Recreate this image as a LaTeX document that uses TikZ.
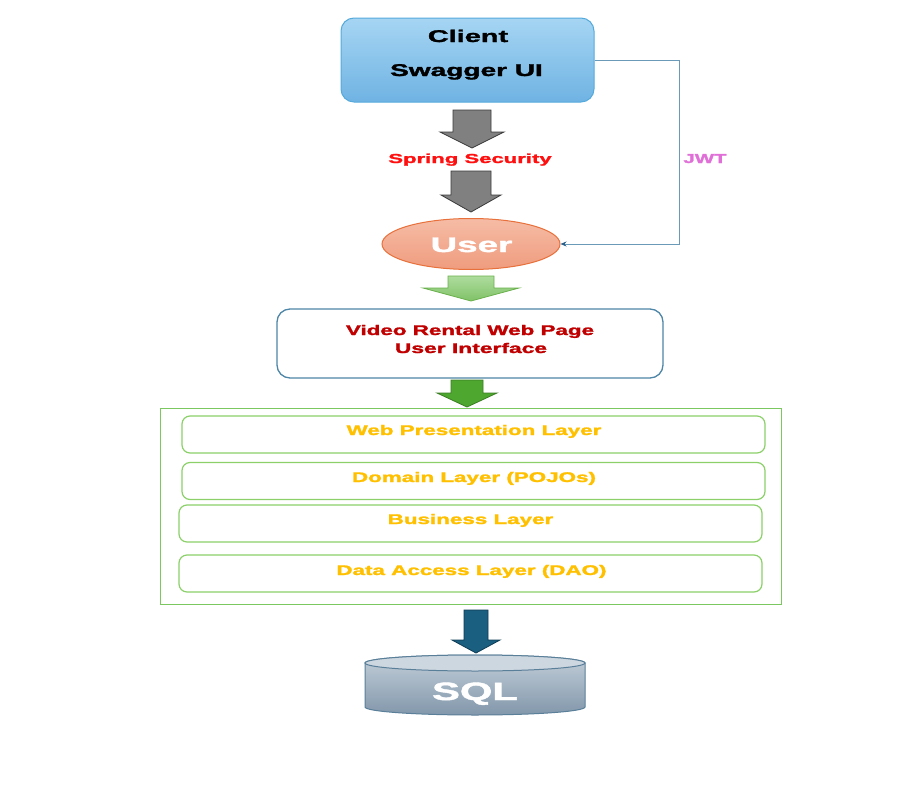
\documentclass[tikz,border=0pt]{standalone}
\usepackage{fontspec}
\setmainfont{Liberation Sans}[BoldFeatures={FakeBold=1.5}]
\usetikzlibrary{shapes.geometric,arrows.meta}
\definecolor{clientT}{HTML}{A6D5F3}
\definecolor{clientBot}{HTML}{6FB3E3}
\definecolor{clientB}{HTML}{55AADC}
\definecolor{userT}{HTML}{F6BCA6}
\definecolor{userBot}{HTML}{EF9C7E}
\definecolor{userB}{HTML}{E8703A}
\definecolor{jwtline}{HTML}{6A9AB8}
\definecolor{jwtarrow}{HTML}{2A5F8A}
\definecolor{jwttext}{HTML}{E070D8}
\definecolor{springred}{HTML}{FF1010}
\definecolor{vrred}{HTML}{C00000}
\definecolor{layertext}{HTML}{FFC000}
\definecolor{layerB}{HTML}{8CD06A}
\definecolor{outerB}{HTML}{7CC860}
\definecolor{vrB}{HTML}{4E86A8}
\definecolor{grayF}{HTML}{808080}
\definecolor{grayB}{HTML}{3A3A3A}
\definecolor{lgT}{HTML}{AEDC9E}
\definecolor{lgBot}{HTML}{80C267}
\definecolor{lgB}{HTML}{6AB04C}
\definecolor{dgF}{HTML}{4EA72E}
\definecolor{dgB}{HTML}{3B7D23}
\definecolor{blF}{HTML}{1A5E80}
\definecolor{blB}{HTML}{0F3D55}
\definecolor{cylT}{HTML}{C3CFD9}
\definecolor{cylBot}{HTML}{8297AB}
\definecolor{cylTop}{HTML}{CDD7DF}
\definecolor{cylB}{HTML}{5A7F99}
\newcommand{\wtxt}[2][1.63]{\scalebox{#1}[1]{#2}}
\newcommand{\blockarrow}[7]{%
  \draw[#7] (#1-#5,#2) -- (#1+#5,#2) -- (#1+#5,#3) -- (#1+#6,#3) -- (#1,#4) -- (#1-#6,#3) -- (#1-#5,#3) -- cycle;}
\tikzset{
  lbl/.style={anchor=base, inner sep=0pt, font=\bfseries\fontsize{14}{16}\selectfont},
  layerbox/.style={draw=layerB, line width=1.2pt, rounded corners=8pt, minimum width=583pt, minimum height=37pt, inner sep=0pt, fill=white},
  grayarrow/.style={fill=grayF, draw=grayB, line width=0.8pt},
}
\begin{document}
\begin{tikzpicture}[x=1pt,y=-1pt]
\useasboundingbox (0,0) rectangle (911,787);
\fill[white] (0,0) rectangle (911,787);

% Client
\node[draw=clientB, line width=1pt, rounded corners=13pt, top color=clientT, bottom color=clientBot, minimum width=253pt, minimum height=84pt, inner sep=0pt] (client) at (467.5,60) {};
\node[lbl, font=\bfseries\fontsize{17}{20}\selectfont] (clientl1) at (468,42) {\wtxt[1.7]{Client}};
\node[lbl, font=\bfseries\fontsize{17}{20}\selectfont] (clientl2) at (466.5,76) {\wtxt[1.65]{Swagger UI}};

% gray arrows and Spring Security
\blockarrow{472}{110}{132}{148}{19}{32}{grayarrow}
\node[lbl, text=springred, font=\bfseries\fontsize{13}{15}\selectfont] (spring) at (470,163) {\wtxt[1.7]{Spring Security}};
\blockarrow{471}{171}{195}{212}{20}{30}{grayarrow}

% User
\node[ellipse, draw=userB, line width=1pt, top color=userT, bottom color=userBot, minimum width=178pt, minimum height=51pt, inner sep=0pt] (user) at (471,244) {};
\node[lbl, text=white, font=\bfseries\fontsize{21}{24}\selectfont] (userl) at (471.5,252) {\wtxt[1.75]{User}};

% JWT connector
\coordinate (jwtc) at (679,60);
\draw[jwtline, line width=1pt, -{Stealth[length=6pt,width=5pt,color=jwtarrow]}] (client.east) -- (jwtc) |- (user.east);
\node[lbl, text=jwttext, font=\bfseries\fontsize{13}{15}\selectfont] (jwt) at (705,163) {\wtxt[1.57]{JWT}};

% light green arrow
\blockarrow{471}{276}{288}{301}{23}{48}{top color=lgT, bottom color=lgBot, draw=lgB, line width=0.8pt}

% Video rental box
\node[draw=vrB, line width=1.3pt, rounded corners=13pt, fill=white, minimum width=386pt, minimum height=69pt, inner sep=0pt] (vr) at (470,343.5) {};
\node[lbl, text=vrred] (vrl1) at (470,335) {\wtxt[1.6]{Video Rental Web Page}};
\node[lbl, text=vrred] (vrl2) at (471,353) {\wtxt[1.63]{User Interface}};

% dark green arrow
\blockarrow{467}{380}{393}{407}{16}{30}{fill=dgF, draw=dgB, line width=0.8pt}

% outer container
\node[draw=outerB, line width=1pt, minimum width=621pt, minimum height=196pt, inner sep=0pt] (outer) at (470.5,506) {};

% layers
\node[layerbox] (wpl) at (473.5,434.5) {};
\node[lbl, text=layertext] (wpll) at (474,435) {\wtxt[1.6]{Web Presentation Layer}};
\node[layerbox] (dl) at (473.5,481) {};
\node[lbl, text=layertext] (dll) at (474,482) {\wtxt[1.6]{Domain Layer (POJOs)}};
\node[layerbox] (bl) at (470.5,523.5) {};
\node[lbl, text=layertext] (bll) at (470.5,524) {\wtxt[1.6]{Business Layer}};
\node[layerbox] (dal) at (470.5,573.5) {};
\node[lbl, text=layertext] (dall) at (471.5,575) {\wtxt[1.6]{Data Access Layer (DAO)}};

% blue arrow
\blockarrow{476}{610}{640}{653}{12}{24}{fill=blF, draw=blB, line width=0.8pt}

% SQL cylinder
\path[draw=cylB, line width=1pt, top color=cylT, bottom color=cylBot] (365,663) -- (365,707) arc[start angle=180, end angle=0, x radius=110, y radius=8] -- (585,663) arc[start angle=0, end angle=-180, x radius=110, y radius=8] -- cycle;
\draw[cylB, line width=1pt, fill=cylTop] (475,663) ellipse[x radius=110, y radius=8];
\node[lbl, text=white, font=\bfseries\fontsize{25}{28}\selectfont] (sql) at (475,700) {\wtxt[1.67]{SQL}};
\end{tikzpicture}
\end{document}
